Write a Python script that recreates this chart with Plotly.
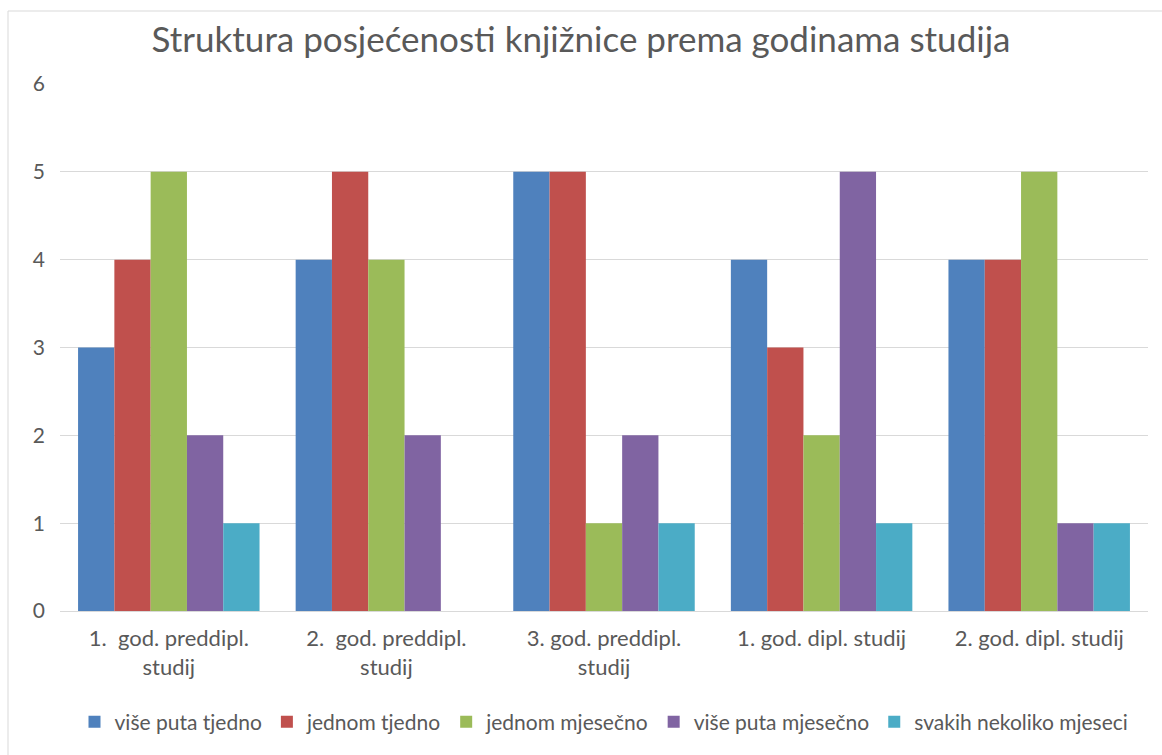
import plotly.graph_objects as go

categories = ["1.  god. preddipl.<br>studij", "2.  god. preddipl.<br>studij", "3. god. preddipl.<br>studij",
              "1. god. dipl. studij", "2. god. dipl. studij"]
series_names = ["više puta tjedno", "jednom tjedno", "jednom mjesečno", "više puta mjesečno", "svakih nekoliko mjeseci"]
vise_puta_tjedno = [3, 4, 5, 4, 4]
jednom_tjedno = [4, 5, 5, 3, 4]
jednom_mjesecno = [5, 4, 1, 2, 5]
vise_puta_mjesecno = [2, 2, 2, 5, 1]
svakih_nekoliko = [1, 0, 1, 1, 1]
colors = ["#4F81BD", "#C0504D", "#9BBB59", "#8064A2", "#4BACC6"]
y_ticks = [0, 1, 2, 3, 4, 5, 6]

values = [vise_puta_tjedno, jednom_tjedno, jednom_mjesecno, vise_puta_mjesecno, svakih_nekoliko]

FONT = "Lato"
fig = go.Figure()
for name, vals, col in zip(series_names, values, colors):
    fig.add_trace(go.Bar(x=categories, y=vals, name=name, marker=dict(color=col, line=dict(width=0))))

L, R, T, B = 60, 14, 84, 144
W, H = 1162, 755
pw, ph = W - L - R, H - T - B

fig.update_layout(
    width=W, height=H,
    margin=dict(l=L, r=R, t=T, b=B),
    paper_bgcolor="white", plot_bgcolor="white",
    barmode="group", bargap=0.166, bargroupgap=0,
    title=dict(text="Struktura posjećenosti knjižnice prema godinama studija",
               x=0.5, xanchor="center", y=1 - 40 / H, yanchor="middle",
               font=dict(family=FONT, size=35, color="#595959")),
    font=dict(family=FONT, size=21, color="#595959"),
    xaxis=dict(showgrid=False, showline=True, linecolor="#D9D9D9", linewidth=1,
               ticks="", ticklabelstandoff=8, tickfont=dict(size=22, color="#595959")),
    yaxis=dict(range=[0, 6], tickvals=y_ticks, showgrid=True, gridcolor="#D9D9D9", gridwidth=1,
               zeroline=False, showline=False, ticks="", ticklabelstandoff=14,
               tickfont=dict(size=21, color="#595959")),
    legend=dict(orientation="h", x=0.5, xanchor="center", y=(611 - 722) / ph, yanchor="middle",
                font=dict(size=21, color="#595959"), traceorder="normal",
                itemsizing="constant"),
    showlegend=True,
)

fig.add_shape(type="rect", xref="paper", yref="paper",
              x0=(8 - L) / pw, x1=(1175 - L) / pw,
              y0=(611 - 770) / ph, y1=(611 - 11) / ph,
              line=dict(color="#D9D9D9", width=1), fillcolor="rgba(0,0,0,0)", layer="below")

fig.write_html("out.html", config={"displayModeBar": False},
               post_script="document.body.style.margin='0px';")
